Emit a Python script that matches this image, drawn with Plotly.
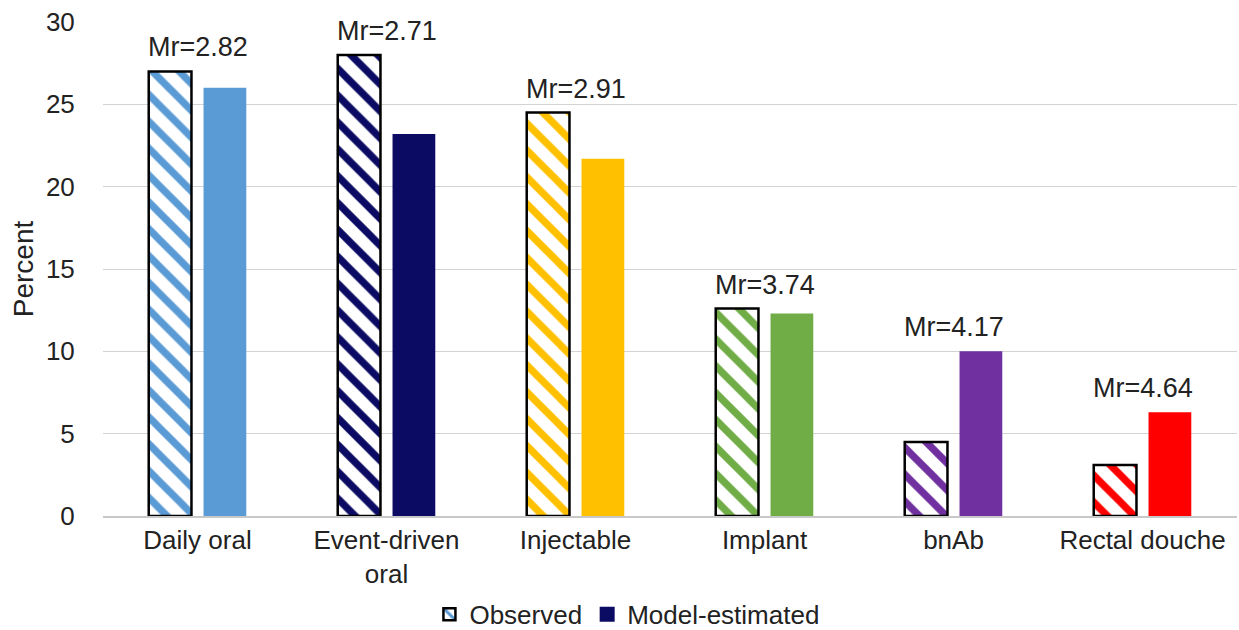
import plotly.graph_objects as go

categories = ["Daily oral", "Event-driven<br>oral", "Injectable", "Implant", "bnAb", "Rectal douche"]
observed = [27.0, 28.0, 24.5, 12.6, 4.5, 3.1]
model_estimated = [26.0, 23.2, 21.7, 12.3, 10.0, 6.3]
mean_rank = ["2.82", "2.71", "2.91", "3.74", "4.17", "4.64"]
colors = ["#5B9BD5", "#0B0B63", "#FFC000", "#70AD47", "#7030A0", "#FF0000"]
legend_model_color = "#0B0B63"

FONT = "Liberation Sans, Arial, sans-serif"
TXT = "#222222"

fig = go.Figure()

fig.add_trace(go.Bar(
    x=categories, y=observed, name="Observed",
    marker=dict(
        color="white",
        line=dict(color="black", width=2.5),
        pattern=dict(shape="\\", fgcolor=colors, bgcolor="white", fgopacity=1,
                     size=19, solidity=0.38, fillmode="overlay"),
    ),
))

fig.add_trace(go.Bar(
    x=categories, y=model_estimated, name="Model-estimated",
    marker=dict(color=colors, line=dict(width=0)),
    showlegend=False,
))

# legend entry for the model-estimated series (navy swatch)
fig.add_trace(go.Scatter(
    x=[None], y=[None], mode="markers", name="Model-estimated",
    marker=dict(symbol="square", size=15, color=legend_model_color),
))

# Mean-rank labels above each pair
for cat, obs, mod, mr in zip(categories, observed, model_estimated, mean_rank):
    fig.add_annotation(
        x=cat, y=max(obs, mod), text=f"Mr={mr}", showarrow=False,
        yanchor="bottom", yshift=7,
        font=dict(family=FONT, size=27, color=TXT),
    )

fig.update_layout(
    width=1239, height=630,
    margin=dict(l=103, r=2, t=22, b=114, autoexpand=False),
    paper_bgcolor="white", plot_bgcolor="white",
    barmode="group", bargap=0.42, bargroupgap=0.22,
    font=dict(family=FONT, size=27, color=TXT),
    showlegend=True,
    legend=dict(orientation="h", xref="container", x=0.506, xanchor="center",
                yref="container", y=0.025, yanchor="middle",
                font=dict(family=FONT, size=26, color=TXT),
                itemwidth=30, traceorder="normal", tracegroupgap=0),
    xaxis=dict(
        showgrid=False, showline=True, linecolor="#c8c8c8", linewidth=1.5,
        ticks="", automargin=False,
        tickfont=dict(family=FONT, size=26, color=TXT),
    ),
    yaxis=dict(
        range=[0, 30], dtick=5, showgrid=True, gridcolor="#d3d3d3", gridwidth=1.3,
        zeroline=False, showline=False, ticks="outside", ticklen=22, tickcolor="white",
        automargin=False,
        tickfont=dict(family=FONT, size=26, color=TXT),
        title=dict(text="Percent", font=dict(family=FONT, size=28, color=TXT), standoff=4),
    ),
)

fig.write_html("out.html")
